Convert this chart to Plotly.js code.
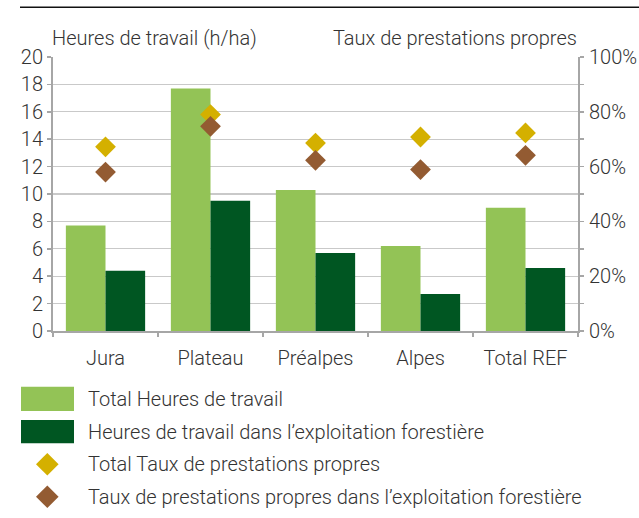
<!DOCTYPE html>
<html>
<head>
<meta charset="utf-8">
<script src="https://cdn.plot.ly/plotly-3.0.1.min.js"></script>
<style>html,body{margin:0;padding:0;background:#fff;}#chart{width:639px;height:518px;}</style>
</head>
<body>
<div id="chart"></div>
<script>
const categories = ["Jura", "Plateau", "Préalpes", "Alpes", "Total REF"];
const totalHeures = [7.7, 17.7, 10.3, 6.2, 9.0];
const heuresExploitation = [4.4, 9.5, 5.7, 2.7, 4.6];
const totalTaux = [0.672, 0.790, 0.686, 0.708, 0.723];
const tauxExploitation = [0.580, 0.747, 0.623, 0.589, 0.641];
const seriesNames = [
  "Total Heures de travail",
  "Heures de travail dans l\u2019exploitation forestière",
  "Total Taux de prestations propres",
  "Taux de prestations propres dans l\u2019exploitation forestière"
];
const leftTitle = "Heures de travail (h/ha)";
const rightTitle = "Taux de prestations propres";

const colors = ["#93c356", "#005622", "#d4b000", "#935b32"];
const textColor = "#333333";
const FONT = "Roboto";
const FS = 20;

// plot-area geometry (pixels)
const W = 639, Hh = 518;
const mL = 53, mR = 61, mT = 57, mB = 187;
const PW = W - mL - mR, PH = Hh - mT - mB;
const fx = px => (px - mL) / PW;
const fy = py => (Hh - mB - py) / PH;

const traces = [
  {type: "bar", x: categories, y: totalHeures, name: seriesNames[0],
   marker: {color: colors[0]}, yaxis: "y", showlegend: false},
  {type: "bar", x: categories, y: heuresExploitation, name: seriesNames[1],
   marker: {color: colors[1]}, yaxis: "y", showlegend: false},
  {type: "scatter", mode: "markers", x: categories, y: totalTaux, name: seriesNames[2],
   marker: {symbol: "diamond", size: 16, color: colors[2]}, yaxis: "y2", showlegend: false},
  {type: "scatter", mode: "markers", x: categories, y: tauxExploitation, name: seriesNames[3],
   marker: {symbol: "diamond", size: 16, color: colors[3]}, yaxis: "y2", showlegend: false}
];

// custom legend
const shapes = [
  {type: "line", xref: "paper", yref: "paper", x0: fx(20), x1: fx(639), y0: fy(7.3), y1: fy(7.3),
   line: {color: "#111111", width: 1.6}},
  {type: "rect", xref: "paper", yref: "paper", x0: fx(21), x1: fx(74), y0: fy(386.7), y1: fy(411),
   fillcolor: colors[0], line: {width: 0}},
  {type: "rect", xref: "paper", yref: "paper", x0: fx(21), x1: fx(74), y0: fy(420), y1: fy(443.3),
   fillcolor: colors[1], line: {width: 0}}
];
function diamondPath(cx, cy, r) {
  return `M ${fx(cx - r)} ${fy(cy)} L ${fx(cx)} ${fy(cy - r)} L ${fx(cx + r)} ${fy(cy)} L ${fx(cx)} ${fy(cy + r)} Z`;
}
shapes.push({type: "path", xref: "paper", yref: "paper", path: diamondPath(47.3, 464.3, 11.3),
  fillcolor: colors[2], line: {width: 0}});
shapes.push({type: "path", xref: "paper", yref: "paper", path: diamondPath(47.3, 496.7, 11.3),
  fillcolor: colors[3], line: {width: 0}});

const legendRows = [399, 431.7, 464.3, 496.7];
const annotations = seriesNames.map((n, i) => ({
  xref: "paper", yref: "paper", x: fx(86), y: fy(legendRows[i]), xanchor: "left", yanchor: "middle",
  text: n, showarrow: false, font: {family: FONT, size: FS, color: textColor, weight: 300}
}));
annotations.push({xref: "paper", yref: "paper", x: fx(50), y: fy(38), xanchor: "left", yanchor: "middle",
  text: leftTitle, showarrow: false, font: {family: FONT, size: FS, color: textColor, weight: 300}});
annotations.push({xref: "paper", yref: "paper", x: fx(579), y: fy(38), xanchor: "right", yanchor: "middle",
  text: rightTitle, showarrow: false, font: {family: FONT, size: FS, color: textColor, weight: 300}});

const tf = {family: FONT, size: FS, color: textColor, weight: 300};
const layout = {
  width: W, height: Hh,
  margin: {l: mL, r: mR, t: mT, b: mB, pad: 0},
  paper_bgcolor: "#ffffff", plot_bgcolor: "#ffffff",
  font: tf,
  barmode: "group", bargap: 0.245, bargroupgap: 0,
  showlegend: false,
  xaxis: {type: "category", showline: true, linecolor: "#a6a6a6", linewidth: 2,
    ticks: "outside", tickson: "boundaries", ticklen: 4, tickcolor: "#a6a6a6", tickwidth: 1.5,
    showgrid: false, ticklabelstandoff: 8, tickfont: tf},
  yaxis: {range: [0, 20], dtick: 2, showline: true, linecolor: "#a6a6a6", linewidth: 2,
    ticks: "outside", ticklen: 4, tickcolor: "#a6a6a6", tickwidth: 1.5,
    showgrid: true, gridcolor: "#c9c9c9", gridwidth: 1.3, zeroline: false,
    tickfont: tf, fixedrange: true},
  yaxis2: {range: [0, 1], dtick: 0.2, tickformat: ".0%", overlaying: "y", side: "right",
    showline: true, linecolor: "#a6a6a6", linewidth: 2, showgrid: false, zeroline: false,
    ticks: "outside", ticklen: 4, tickcolor: "#a6a6a6", tickwidth: 1.5, ticklabelstandoff: 1,
    minor: {dtick: 0.1, ticks: "outside", ticklen: 4, tickcolor: "#a6a6a6", tickwidth: 1.5, showgrid: false},
    tickfont: tf},
  shapes: shapes,
  annotations: annotations
};

Plotly.newPlot("chart", traces, layout, {displayModeBar: false, staticPlot: true});
</script>
</body>
</html>
